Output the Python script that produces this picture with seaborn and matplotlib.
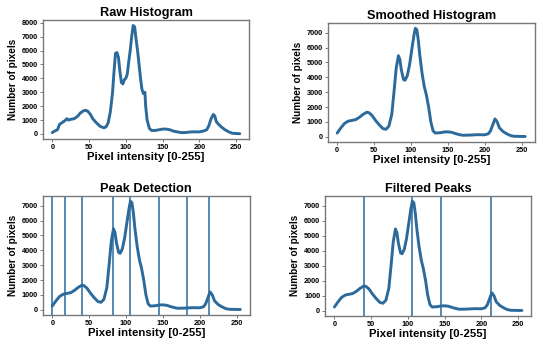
import matplotlib
matplotlib.use("Agg")
import matplotlib.pyplot as plt
import seaborn as sns
import pandas as pd
from matplotlib.ticker import MultipleLocator

# raw histogram (intensity, count)
raw_x = [0, 3, 7, 10, 13, 17, 20, 22, 25, 30, 35, 38, 42, 45, 48, 52, 55, 60, 65, 70,
         73, 76, 79, 82, 84, 86, 88, 90, 92, 94, 96, 98, 100, 102, 104, 106, 108, 110,
         112, 114, 116, 118, 120, 122, 124, 126, 127, 129, 132, 135, 140, 145, 150, 155,
         160, 165, 170, 175, 180, 190, 200, 205, 210, 213, 216, 219, 221, 223, 226, 230,
         235, 240, 245, 250, 255]
raw_y = [100, 200, 300, 700, 800, 950, 1100, 1000, 1050, 1100, 1300, 1500, 1650, 1700,
         1650, 1400, 1100, 800, 550, 450, 500, 800, 1600, 3000, 4500, 5800, 5850, 5500,
         4500, 3700, 3600, 3900, 4000, 4300, 5200, 6000, 7000, 7800, 7700, 6800, 6000,
         5000, 4000, 3200, 2900, 3000, 2000, 1000, 400, 250, 250, 300, 350, 350, 300, 200,
         150, 100, 100, 150, 150, 200, 300, 600, 1100, 1400, 1300, 900, 700, 500, 300,
         150, 50, 30, 20]

# smoothed histogram
smooth_x = [0, 5, 10, 15, 20, 25, 30, 35, 40, 43, 47, 52, 57, 62, 66, 70, 74, 77, 80,
            83, 85, 87, 90, 92, 95, 98, 101, 104, 106, 108, 110, 112, 115, 118, 121, 124,
            127, 130, 133, 140, 145, 150, 155, 160, 165, 170, 180, 190, 200, 205, 208,
            211, 214, 217, 220, 225, 230, 235, 240, 250, 255]
smooth_y = [250, 600, 900, 1050, 1100, 1150, 1300, 1500, 1650, 1620, 1450, 1100, 800,
            550, 500, 700, 1500, 3000, 4600, 5450, 5200, 4500, 3850, 3800, 4100, 4800,
            5800, 6800, 7300, 7200, 6500, 5500, 4300, 3400, 2800, 2000, 1000, 400, 250,
            270, 320, 330, 300, 220, 150, 100, 110, 140, 130, 200, 400, 800, 1200, 1000,
            600, 350, 200, 80, 30, 20, 20]

detected_peaks = [0, 17, 40, 82, 106, 145, 183, 213]
filtered_peaks = [40, 106, 145, 213]

raw_df = pd.DataFrame({"intensity": raw_x, "count": raw_y})
smooth_df = pd.DataFrame({"intensity": smooth_x, "count": smooth_y})

sns.set_style("white")
plt.rcParams["font.family"] = ["Liberation Sans", "DejaVu Sans"]
plt.rcParams["font.weight"] = "bold"
plt.rcParams["text.color"] = "black"
plt.rcParams["axes.labelcolor"] = "black"
plt.rcParams["xtick.labelcolor"] = "black"
plt.rcParams["ytick.labelcolor"] = "black"

color = "#2b6a9b"
fig = plt.figure(figsize=(5.5, 3.46), dpi=100)

positions = [
    [0.078, 0.598, 0.375, 0.344],
    [0.596, 0.590, 0.376, 0.344],
    [0.078, 0.090, 0.376, 0.344],
    [0.591, 0.087, 0.375, 0.347],
]
titles = ["Raw Histogram", "Smoothed Histogram", "Peak Detection", "Filtered Peaks"]
data = [raw_df, smooth_df, smooth_df, smooth_df]
peaks = [None, None, detected_peaks, filtered_peaks]

for pos, title, df, pk in zip(positions, titles, data, peaks):
    ax = fig.add_axes(pos)
    sns.lineplot(data=df, x="intensity", y="count", ax=ax, color=color, linewidth=2.1)
    if pk is not None:
        for p in pk:
            ax.axvline(p, color=color, linewidth=1.1)
    ax.set_title(title, fontsize=9.2, fontweight="bold", pad=3, color="black")
    ax.set_xlabel("Pixel intensity [0-255]", fontsize=8.2, fontweight="bold", labelpad=1)
    ax.set_ylabel("Number of pixels", fontsize=7.2, fontweight="bold", labelpad=3)
    ax.set_xticks([0, 50, 100, 150, 200, 250])
    ax.yaxis.set_major_locator(MultipleLocator(1000))
    ax.tick_params(labelsize=5.3, length=2, width=0.7, color="#777777", pad=1.5,
                   bottom=True, left=True, labelcolor="black")
    for lab in ax.get_xticklabels() + ax.get_yticklabels():
        lab.set_fontweight("bold")
    for s in ax.spines.values():
        s.set_color("#777777")
        s.set_linewidth(1.0)

fig.savefig("out.png", dpi=100)
